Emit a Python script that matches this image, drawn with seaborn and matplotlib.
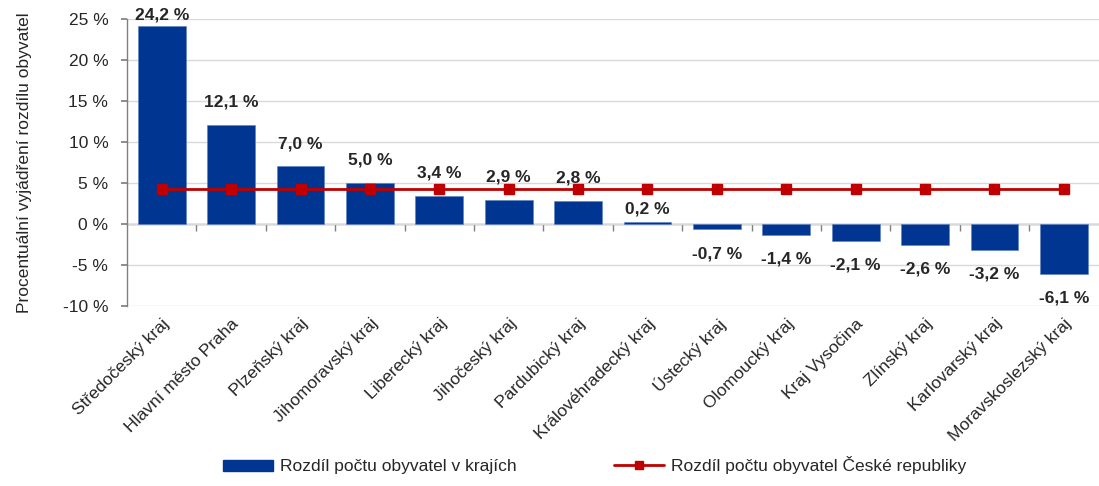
import matplotlib
matplotlib.use("Agg")
import matplotlib.pyplot as plt
from matplotlib.patches import Patch
from matplotlib.lines import Line2D
import seaborn as sns
import pandas as pd

regions = ["Středočeský kraj", "Hlavní město Praha", "Plzeňský kraj", "Jihomoravský kraj",
           "Liberecký kraj", "Jihočeský kraj", "Pardubický kraj", "Královéhradecký kraj",
           "Ústecký kraj", "Olomoucký kraj", "Kraj Vysočina", "Zlínský kraj",
           "Karlovarský kraj", "Moravskoslezský kraj"]
region_values = [24.2, 12.1, 7.0, 5.0, 3.4, 2.9, 2.8, 0.2, -0.7, -1.4, -2.1, -2.6, -3.2, -6.1]
national_value = [4.2] * len(regions)
y_ticks = [-10, -5, 0, 5, 10, 15, 20, 25]
series_names = ["Rozdíl počtu obyvatel v krajích", "Rozdíl počtu obyvatel České republiky"]
y_title = "Procentuální vyjádření rozdílu obyvatel"

sns.set_theme(style="white")
plt.rcParams['font.family'] = ['Liberation Sans Narrow', 'Liberation Sans', 'DejaVu Sans']

BLUE = "#003591"
RED = "#C00000"

df = pd.DataFrame({"region": regions, "value": region_values})

fig = plt.figure(figsize=(10.99, 4.86), dpi=100)
ax = fig.add_axes([0.1156, 0.370, 0.884, 0.591])

sns.barplot(data=df, x="region", y="value", color=BLUE, width=0.69, saturation=1,
            edgecolor="#5a7fc0", linewidth=0.4, ax=ax, zorder=2)
ax.plot(range(len(regions)), national_value, color=RED, linewidth=2, marker="s",
        markersize=7, zorder=4)

ax.set_ylim(-10.08, 25)
ax.set_xlim(-0.5, len(regions) - 0.5)
ax.set_yticks(y_ticks)
ax.set_yticklabels([f"{t} %" for t in y_ticks], fontsize=12.5)
ax.yaxis.grid(True, color="#D9D9D9", linewidth=1)
ax.set_axisbelow(True)
ax.tick_params(axis="y", which="both", left=True, length=4, color="#808080", pad=9.5)

ax.set_xticks(range(len(regions)))
ax.set_xticklabels(regions, rotation=45, ha="right", rotation_mode="anchor", fontsize=12.5)
ax.tick_params(axis="x", length=0, pad=7)
ax.set_xlabel("")
ax.set_ylabel(y_title, fontsize=12.5, labelpad=22)

for s in ["top", "right", "bottom"]:
    ax.spines[s].set_visible(False)
ax.spines["left"].set_color("#808080")
ax.spines["left"].set_linewidth(1)

# zero axis with separator ticks
ylo, yhi = ax.get_ylim()
zero_frac = (0 - ylo) / (yhi - ylo)
sec = ax.secondary_xaxis(zero_frac)
sec.set_xticks([i + 0.5 for i in range(len(regions) - 1)])
sec.set_xticklabels([])
sec.tick_params(direction="out", length=5, color="#808080", width=1)
sec.spines["bottom"].set_color("#808080")
sec.spines["bottom"].set_linewidth(1)
for s in ["top", "left", "right"]:
    sec.spines[s].set_visible(False)

for i, v in enumerate(region_values):
    label = f"{v:.1f}".replace(".", ",") + " %"
    if v >= 0:
        off = 2 if v > 22 else 11
        if v < 1:
            off = 4
        ax.annotate(label, (i, v), xytext=(0, off), textcoords="offset points",
                    ha="center", va="bottom", fontsize=12.5, fontweight="bold",
                    annotation_clip=False, zorder=5)
    else:
        ax.annotate(label, (i, v), xytext=(0, -12), textcoords="offset points",
                    ha="center", va="top", fontsize=12.5, fontweight="bold",
                    annotation_clip=False, zorder=5)

handles = [Patch(facecolor=BLUE, edgecolor=BLUE),
           Line2D([0], [0], color=RED, linewidth=2, marker="s", markersize=6)]
fig.legend(handles, series_names, loc="lower center", bbox_to_anchor=(0.541, -0.008),
           ncol=2, frameon=False, fontsize=12.5, handlelength=2.9, handleheight=0.6,
           columnspacing=5.6, handletextpad=0.4)

fig.savefig("out.png", dpi=100)
